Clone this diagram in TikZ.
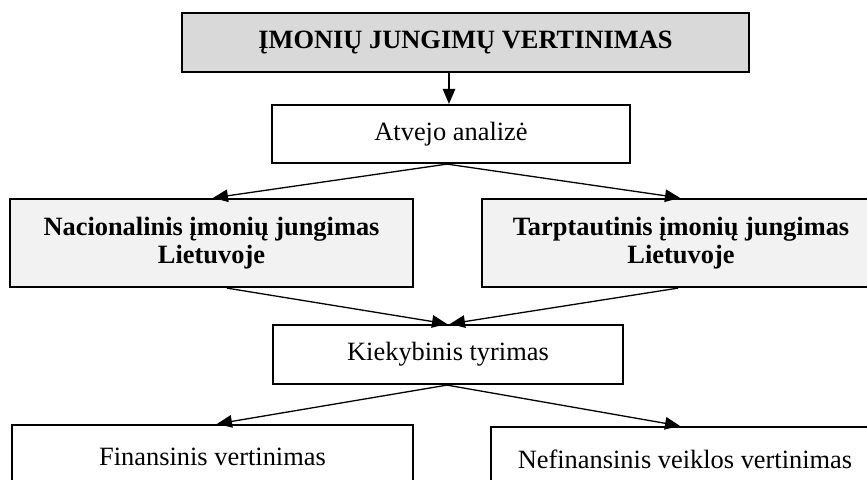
\documentclass[tikz,border=0pt]{standalone}
\usepackage{fontspec}
\setmainfont{Liberation Serif}
\usetikzlibrary{arrows.meta}
\definecolor{titlegray}{HTML}{D9D9D9}
\definecolor{lightgray}{HTML}{F2F2F2}
\begin{document}
\begin{tikzpicture}[x=1pt,y=-1pt,
  box/.style={draw=black, line width=2.2pt, inner sep=0pt, align=center,
    font=\fontsize{26.4}{28}\selectfont},
  boldbox/.style={box, font=\fontsize{26.4}{28}\selectfont\bfseries},
  arr/.style={-{Triangle[length=15pt,width=12.5pt]}, line width=1.3pt},
]
\useasboundingbox (0,0) rectangle (867,479);
\begin{scope}
\clip (0,0) rectangle (867,479);
% boxes
\node[boldbox, fill=titlegray, line width=2.7pt, minimum width=567pt, minimum height=59pt] (title) at (465.5,42.5) {ĮMONIŲ JUNGIMŲ VERTINIMAS};
\node[box, minimum width=358pt, minimum height=58pt] (atv) at (451,134) {Atvejo analizė};
\node[boldbox, fill=lightgray, minimum width=403pt, minimum height=88pt] (nac) at (211.5,243) {Nacionalinis įmonių jungimas\\Lietuvoje};
\node[boldbox, fill=lightgray, minimum width=398pt, minimum height=88pt] (tarp) at (681,243) {Tarptautinis įmonių jungimas\\Lietuvoje};
\node[box, minimum width=350pt, minimum height=59pt] (kiek) at (448,354.5) {Kiekybinis tyrimas};
\node[box, minimum width=401pt, minimum height=64pt] (fin) at (212.5,457) {Finansinis vertinimas};
\node[box, minimum width=388pt, minimum height=64pt] (nef) at (685,459) {Nefinansinis veiklos vertinimas};
% connectors
\draw[arr] (atv.north |- title.south) ++(-2,0) -- ([xshift=-2pt]atv.north);
\draw[arr] ([xshift=-4pt]atv.south) -- ([xshift=1.5pt]nac.north);
\draw[arr] ([xshift=-4pt]atv.south) -- ([xshift=-1pt]tarp.north);
\draw[arr] ([xshift=15.5pt]nac.south) -- ([xshift=-1pt]kiek.north);
\draw[arr] ([xshift=-3pt]tarp.south) -- ([xshift=2pt]kiek.north);
\draw[arr] ([xshift=-1pt]kiek.south) -- ([xshift=4.5pt]fin.north);
\draw[arr] ([xshift=-1pt]kiek.south) -- ([xshift=-5pt]nef.north);
\end{scope}
\end{tikzpicture}
\end{document}
